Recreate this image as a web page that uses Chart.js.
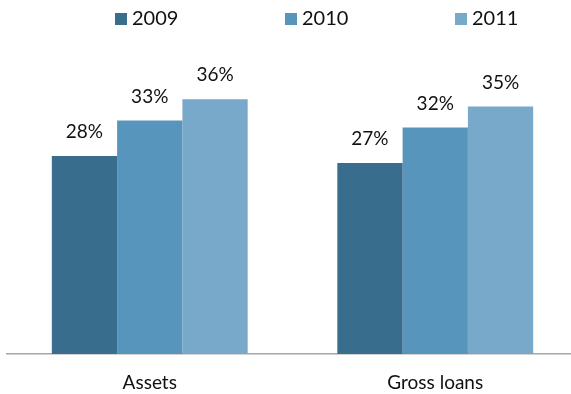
<!DOCTYPE html>
<html>
<head>
<meta charset="utf-8">
<script src="https://cdn.jsdelivr.net/npm/chart.js@4/dist/chart.umd.min.js"></script>
<style>
  html, body { margin: 0; padding: 0; background: #fff; overflow: hidden; }
  #wrap { width: 578px; height: 394px; }
</style>
</head>
<body>
<div id="wrap"><canvas id="chart"></canvas></div>
<script>
const categories = ["Assets", "Gross loans"];
const years = ["2009", "2010", "2011"];
const share2009 = [28, 27];
const share2010 = [33, 32];
const share2011 = [36, 35];
const colors = ["#386d8e", "#5795bd", "#78a9cb"];

const fontFamily = "Lato, 'Open Sans', sans-serif";

// writes the percentage above every bar
const valueLabels = {
    id: "valueLabels",
    afterDatasetsDraw(chart) {
        const ctx = chart.ctx;
        ctx.save();
        ctx.font = "19px " + fontFamily;
        ctx.fillStyle = "#111";
        ctx.textAlign = "center";
        ctx.textBaseline = "middle";
        chart.data.datasets.forEach((ds, i) => {
            chart.getDatasetMeta(i).data.forEach((bar, j) => {
                ctx.fillText(ds.data[j] + "%", bar.x, bar.y - 24);
            });
        });
        ctx.restore();
    }
};

// legend row across the top, one entry per year, spaced evenly
const yearLegend = {
    id: "yearLegend",
    afterDraw(chart) {
        const ctx = chart.ctx;
        ctx.save();
        ctx.font = "20px " + fontFamily;
        ctx.textBaseline = "middle";
        chart.data.datasets.forEach((ds, i) => {
            const x = 115 + i * 170;
            ctx.fillStyle = ds.backgroundColor;
            ctx.fillRect(x, 13, 12, 12);
            ctx.fillStyle = "#111";
            ctx.fillText(ds.label, x + 17, 19);
        });
        ctx.restore();
    }
};

const sets = [share2009, share2010, share2011].map((vals, i) => ({
    label: years[i],
    data: vals,
    backgroundColor: colors[i],
    borderWidth: 0,
    categoryPercentage: 0.686,
    barPercentage: 1
}));

new Chart(document.getElementById("chart"), {
    type: "bar",
    data: { labels: categories, datasets: sets },
    plugins: [valueLabels, yearLegend],
    options: {
        responsive: true,
        maintainAspectRatio: false,
        animation: false,
        layout: { padding: { left: 7, right: 0, top: 71, bottom: 0 } },
        plugins: {
            tooltip: { enabled: false },
            legend: { display: false }
        },
        scales: {
            x: {
                grid: { display: false },
                border: { display: true, color: "#a6a6a6", width: 1.5 },
                ticks: { color: "#111", padding: 9, font: { family: fontFamily, size: 19 } },
                afterFit(scale) { scale.height = 40; }
            },
            y: {
                display: false,
                min: 0,
                max: 40
            }
        }
    }
});
</script>
</body>
</html>
